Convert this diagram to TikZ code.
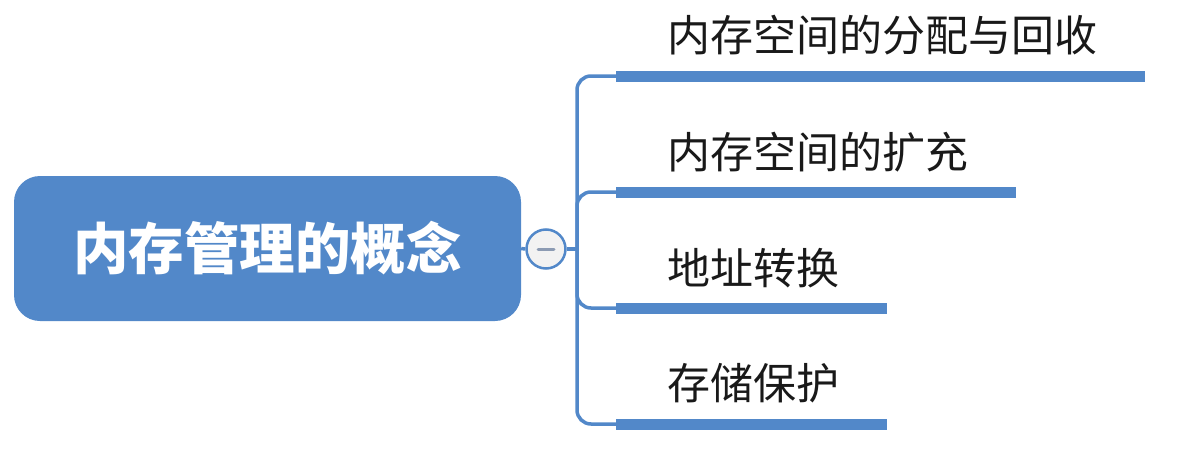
\documentclass[tikz,border=0pt]{standalone}
\usepackage{fontspec}
\setmainfont{Noto Sans CJK SC}
\usetikzlibrary{positioning}
\definecolor{mapblue}{HTML}{5288C9}
\definecolor{knobgray}{HTML}{8C9BB3}

\begin{document}
\begin{tikzpicture}[
  x=1pt, y=-1pt,
  root/.style={fill=mapblue, rounded corners=26pt, minimum width=507pt,
               minimum height=145pt, inner sep=0pt, text=white,
               font=\fontsize{55.5}{60}\selectfont\bfseries},
  knob/.style={circle, draw=mapblue, line width=2.5pt, fill=black!5,
               minimum size=39pt, inner sep=0pt},
  link/.style={draw=mapblue, line width=3.5pt, rounded corners=14pt},
  bar/.style={draw=mapblue, line width=11pt},
  leaf/.style={anchor=west, inner sep=0pt, text=black!90,
               font=\fontsize{43}{48}\selectfont},
]
  \useasboundingbox (0,0) rectangle (1179,466);

  % Central topic
  \node[root] (root) at (267.5,248.5) {内存管理的概念};
  \node[knob] (knob) at (546,249) {};
  \draw[line width=3pt, knobgray, line cap=round]
    ([xshift=-8pt]knob.center) -- ([xshift=8pt]knob.center);
  \coordinate (trunk) at (577,249);
  \draw[link] (root.east) -- (knob.west);
  \draw[link] (knob.east) -- (trunk);

  % Allocation and reclaim
  \coordinate (alloc-s) at (616,76);
  \coordinate (alloc-e) at (1145,76);
  \draw[link] (trunk) |- (alloc-s);
  \draw[bar] (alloc-s) -- (alloc-e);
  \node[leaf] (alloc) at (667,35) {内存空间的分配与回收};

  % Expansion
  \coordinate (expand-s) at (616,192);
  \coordinate (expand-e) at (1016,192);
  \draw[link] (trunk) |- (expand-s);
  \draw[bar] (expand-s) -- (expand-e);
  \node[leaf] (expand) at (667,152) {内存空间的扩充};

  % Address translation
  \coordinate (addr-s) at (616,308);
  \coordinate (addr-e) at (887,308);
  \draw[link] (trunk) |- (addr-s);
  \draw[bar] (addr-s) -- (addr-e);
  \node[leaf] (addr) at (667,268) {地址转换};

  % Protection
  \coordinate (protect-s) at (616,424);
  \coordinate (protect-e) at (887,424);
  \draw[link] (trunk) |- (protect-s);
  \draw[bar] (protect-s) -- (protect-e);
  \node[leaf] (protect) at (667,383) {存储保护};
\end{tikzpicture}
\end{document}
